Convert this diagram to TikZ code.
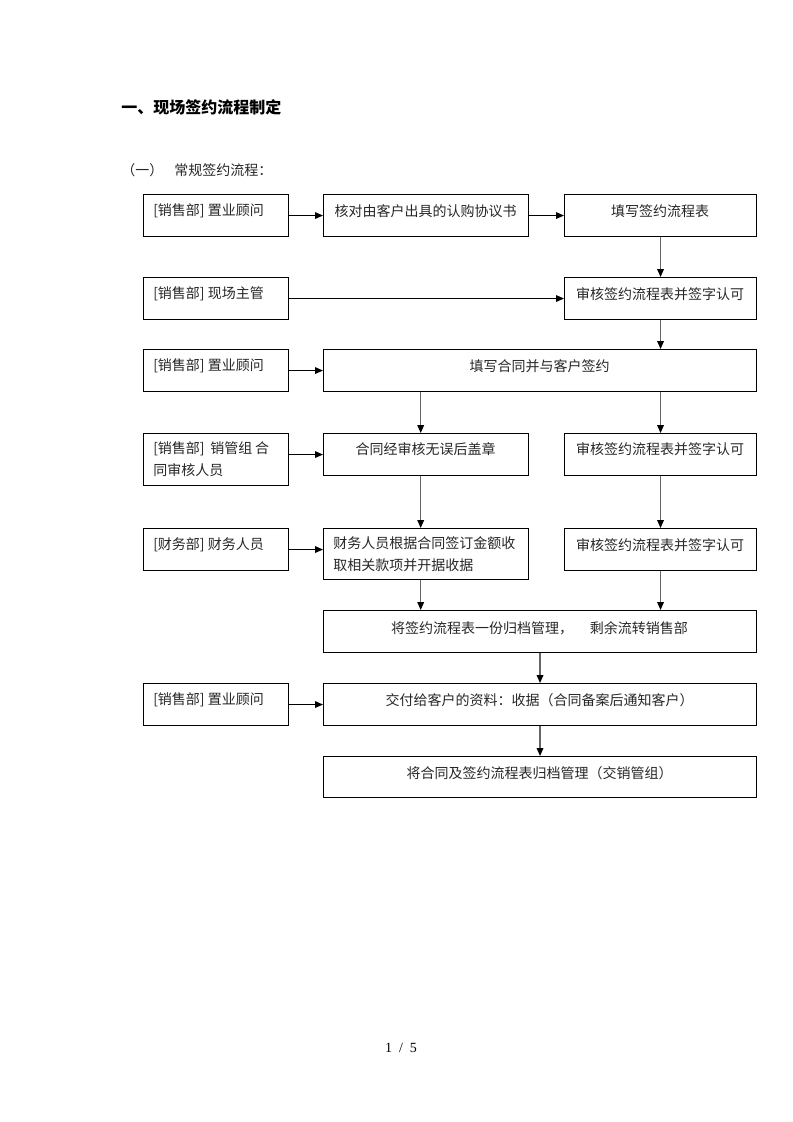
\documentclass[tikz,border=0pt]{standalone}
\usepackage{fontspec}
\setmainfont{Liberation Serif}
\newfontfamily\cjk{Noto Sans CJK SC}
\usetikzlibrary{arrows.meta}
\tikzset{
  box/.style={draw=black, line width=0.8pt, rectangle, inner sep=0pt, anchor=north west},
  txt/.style={font=\cjk\fontsize{10.5}{16.5}\selectfont, inner sep=0pt, text=black!85},
  ltxt/.style={txt, anchor=west},
  harr/.style={draw=black, line width=0.8pt, -{Triangle[length=6pt,width=5pt]}},
  varr/.style={draw=black!60, line width=1pt, -{Triangle[length=6pt,width=5pt,fill=black,color=black]}},
}
\begin{document}
\begin{tikzpicture}[x=0.75pt,y=-0.75pt]
\useasboundingbox (0,0) rectangle (793,1122);
% headings
\node[anchor=west, inner sep=0pt, font=\cjk\bfseries\fontsize{12}{14}\selectfont] (title) at (121,107) {一、现场签约流程制定};
\node[anchor=west, inner sep=0pt, font=\cjk\fontsize{10.5}{14}\selectfont, text=black!85] (sub) at (121,170) {（一）\hspace{0.8em}常规签约流程：};
% boxes
\newcommand\mkbox[5]{\node[box, minimum width=#4*0.75pt, minimum height=#5*0.75pt] (#1) at (#2,#3) {};}
\mkbox{l1}{143}{194}{145}{42}
\mkbox{m1}{323}{194}{205}{42}
\mkbox{r1}{564}{194}{192}{42}
\mkbox{l2}{143}{277}{145}{42}
\mkbox{r2}{564}{277}{192}{42}
\mkbox{l3}{143}{349}{145}{42}
\mkbox{w3}{323}{349}{433}{42}
\mkbox{l4}{143}{433}{145}{52}
\mkbox{m4}{323}{433}{205}{42}
\mkbox{r4}{564}{433}{192}{42}
\mkbox{l5}{143}{528}{145}{42}
\mkbox{m5}{323}{528}{205}{51}
\mkbox{r5}{564}{528}{192}{42}
\mkbox{w6}{323}{610}{433}{42}
\mkbox{l7}{143}{683}{145}{42}
\mkbox{w7}{323}{683}{433}{42}
\mkbox{w8}{323}{756}{433}{41}
% texts
\node[ltxt] (tl1) at (153,211) {[销售部] 置业顾问};
\node[txt] (tm1) at (425.5,211) {核对由客户出具的认购协议书};
\node[txt] (tr1) at (660,211) {填写签约流程表};
\node[ltxt] (tl2) at (153,294) {[销售部] 现场主管};
\node[txt] (tr2) at (660,294) {审核签约流程表并签字认可};
\node[ltxt] (tl3) at (153,366) {[销售部] 置业顾问};
\node[txt] (tw3) at (539.5,366) {填写合同并与客户签约};
\node[txt, anchor=north west, align=left] (tl4) at (153,441) {[销售部]\hspace{0.4em}销管组\hspace{0.2em}合\\同审核人员};
\node[txt] (tm4) at (425.5,449) {合同经审核无误后盖章};
\node[txt] (tr4) at (660,449) {审核签约流程表并签字认可};
\node[ltxt] (tl5) at (153,545) {[财务部] 财务人员};
\node[txt, anchor=north west, align=left] (tm5) at (333,536) {财务人员根据合同签订金额收\\取相关款项并开据收据};
\node[txt] (tr5) at (660,545) {审核签约流程表并签字认可};
\node[txt] (tw6) at (539.5,628) {将签约流程表一份归档管理，\hspace{1.2em}剩余流转销售部};
\node[ltxt] (tl7) at (153,700) {[销售部] 置业顾问};
\node[txt] (tw7) at (539.5,700) {交付给客户的资料：收据（合同备案后通知客户）};
\node[txt] (tw8) at (539.5,773) {将合同及签约流程表归档管理（交销管组）};
% page number
\node[inner sep=0pt, font=\fontsize{10.5}{12}\selectfont] (pg) at (401,1048) {1\ \ /\ \ 5};
% horizontal arrows
\draw[harr] (l1.east) -- (m1.west);
\draw[harr] (m1.east) -- (r1.west);
\draw[harr] (l2.east) -- (r2.west);
\draw[harr] (l3.east) -- (w3.west);
\draw[harr] (l4.east |- m4.west) -- (m4.west);
\draw[harr] (l5.east) -- (l5.east -| m5.west);
\draw[harr] (l7.east) -- (w7.west);
% vertical arrows
\draw[varr] (r1.south) -- (r2.north);
\draw[varr] (r2.south) -- (r2.south |- w3.north);
\draw[varr] ([xshift=-4pt]m4.north |- w3.south) -- ([xshift=-4pt]m4.north);
\draw[varr] (r4.north |- w3.south) -- (r4.north);
\draw[varr] ([xshift=-4pt]m4.south) -- ([xshift=-4pt]m5.north);
\draw[varr] (r4.south) -- (r5.north);
\draw[varr] ([xshift=-4pt]m5.south) -- ([xshift=-4pt]m5.south |- w6.north);
\draw[varr] (r5.south) -- (r5.south |- w6.north);
\draw[varr] (w6.south) -- (w7.north);
\draw[varr] (w7.south) -- (w8.north);
\end{tikzpicture}
\end{document}
